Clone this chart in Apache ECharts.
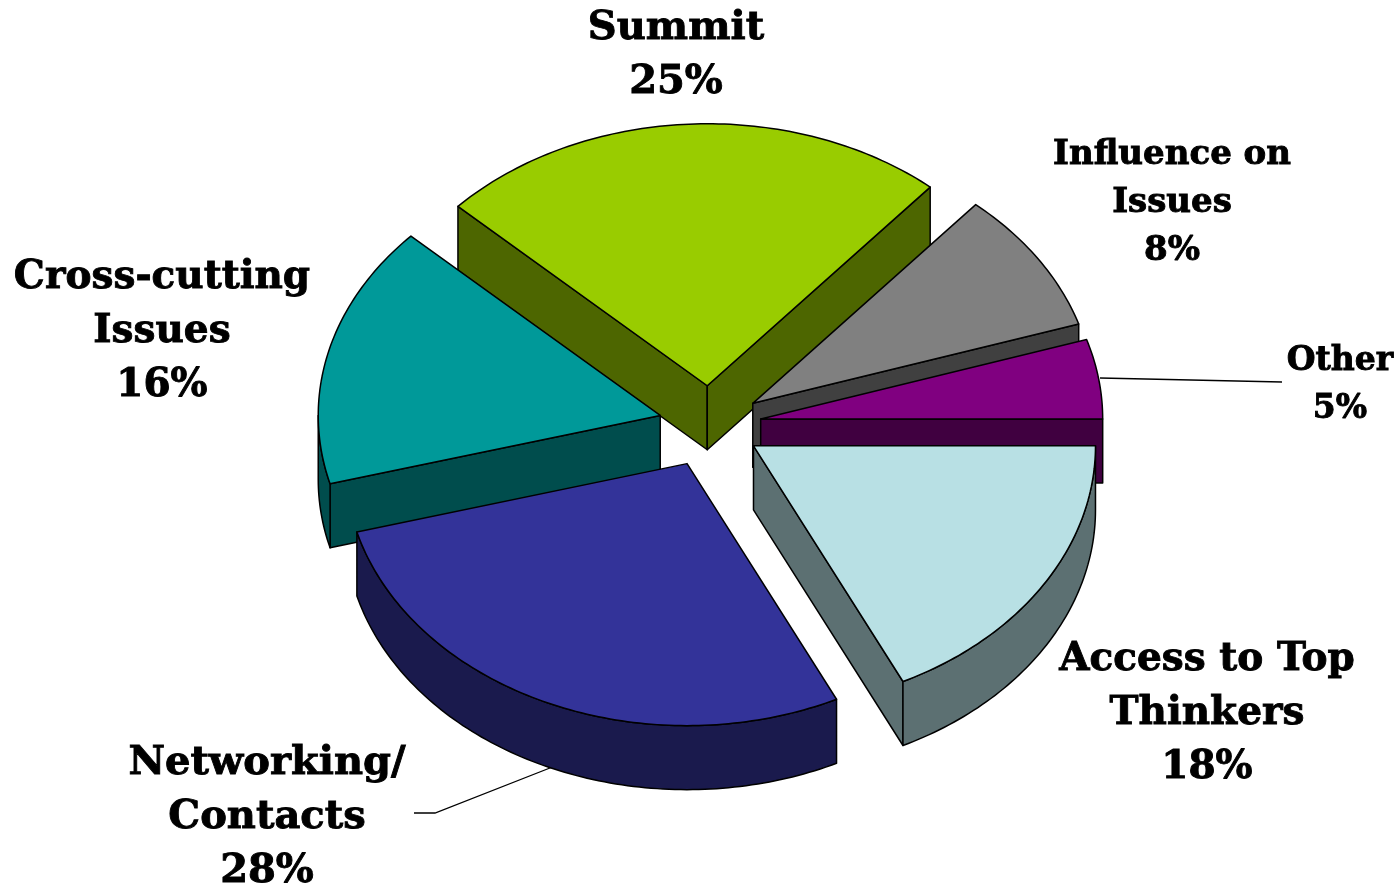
<!DOCTYPE html>
<html>
<head>
<meta charset="utf-8">
<style>
  html, body { margin: 0; padding: 0; background: #fff; }
  #chart { width: 1399px; height: 886px; }
</style>
<script src="https://cdn.jsdelivr.net/npm/echarts@6/dist/echarts.min.js"></script>
</head>
<body>
<div id="chart"></div>
<script>
// slices run clockwise from 3 o'clock
var names = ['Access to Top\nThinkers', 'Networking/\nContacts', 'Cross-cutting\nIssues', 'Summit', 'Influence on\nIssues', 'Other'];
// printed percentages
var percents = [18, 28, 16, 25, 8, 5];
// shares, the printed ones are rounded
var values = [17.8, 28, 16.2, 24.3, 8.8, 4.9];
var topColors = ['#B8E0E4', '#333399', '#009999', '#99CC00', '#808080', '#800080'];
var wallColors = ['#5C7072', '#1A1A4D', '#004D4D', '#4D6600', '#404040', '#400040'];
// back to front
var paintOrder = [3, 4, 5, 2, 0, 1];

var explode = [0.15, 0.162, 0.15, 0.15, 0.15, 0.15];

var labelX = [1207, 267, 162, 676, 1172, 1340];
var labelY = [714, 818, 332, 56, 203, 385];
var labelSize = [39, 40, 39, 40, 34, 33];
var labelLine = [54, 54, 54, 54, 48, 48];

var cx = 710, cy = 425, rx = 342, ry = 262, depth = 64;

var total = values.reduce(function (a, b) { return a + b; }, 0);
var angles = [];
var acc = 0;
values.forEach(function (v) {
  angles.push([acc / total * Math.PI * 2, (acc + v) / total * Math.PI * 2]);
  acc += v;
});

function arcPoints(ox, oy, a, b) {
  var n = Math.max(2, Math.ceil((b - a) * rx / 6));
  var pts = [];
  for (var i = 0; i <= n; i++) {
    var t = a + (b - a) * i / n;
    pts.push([ox + rx * Math.cos(t), oy + ry * Math.sin(t)]);
  }
  return pts;
}

function poly(points, fill) {
  return {
    type: 'polygon',
    shape: { points: points },
    style: { fill: fill, stroke: '#000', lineWidth: 1.5, lineJoin: 'round' }
  };
}

function sideWall(ox, oy, t, fill) {
  var ex = ox + rx * Math.cos(t), ey = oy + ry * Math.sin(t);
  return poly([[ox, oy], [ex, ey], [ex, ey + depth], [ox, oy + depth]], fill);
}

function renderSlice(params) {
  var idx = paintOrder[params.dataIndex];
  var a = angles[idx][0], b = angles[idx][1];
  var mid = (a + b) / 2;
  var ox = cx + explode[idx] * rx * Math.cos(mid);
  var oy = cy + explode[idx] * ry * Math.sin(mid);
  var kids = [];

  // only the walls facing the viewer
  if (Math.cos(a) < 0) kids.push(sideWall(ox, oy, a, wallColors[idx]));
  if (Math.cos(b) > 0) kids.push(sideWall(ox, oy, b, wallColors[idx]));

  var fa = Math.max(a, 0), fb = Math.min(b, Math.PI);
  if (fb > fa) {
    var front = arcPoints(ox, oy, fa, fb);
    var lower = front.map(function (p) { return [p[0], p[1] + depth]; }).reverse();
    kids.push(poly(front.concat(lower), wallColors[idx]));
  }

  kids.push(poly([[ox, oy]].concat(arcPoints(ox, oy, a, b)), topColors[idx]));
  return { type: 'group', children: kids };
}

var labels = names.map(function (n, i) {
  return {
    type: 'text',
    x: labelX[i],
    y: labelY[i],
    style: {
      text: n + '\n' + percents[i] + '%',
      fill: '#000',
      stroke: '#000',
      lineWidth: 0.9,
      font: 'bold ' + labelSize[i] + 'px "DejaVu Serif"',
      lineHeight: labelLine[i],
      align: 'center',
      verticalAlign: 'middle'
    }
  };
});

var leaders = [
  [[1100, 378], [1282, 382]],
  [[555, 766], [435, 813], [414, 813]]
].map(function (pts) {
  return { type: 'polyline', shape: { points: pts }, style: { stroke: '#000', lineWidth: 1.3, fill: 'none' } };
});

var chart = echarts.init(document.getElementById('chart'));
chart.setOption({
  animation: false,
  backgroundColor: '#fff',
  series: [{
    type: 'custom',
    coordinateSystem: 'none',
    data: paintOrder.map(function (i) { return values[i]; }),
    renderItem: renderSlice
  }],
  graphic: leaders.concat(labels)
});
</script>
</body>
</html>
